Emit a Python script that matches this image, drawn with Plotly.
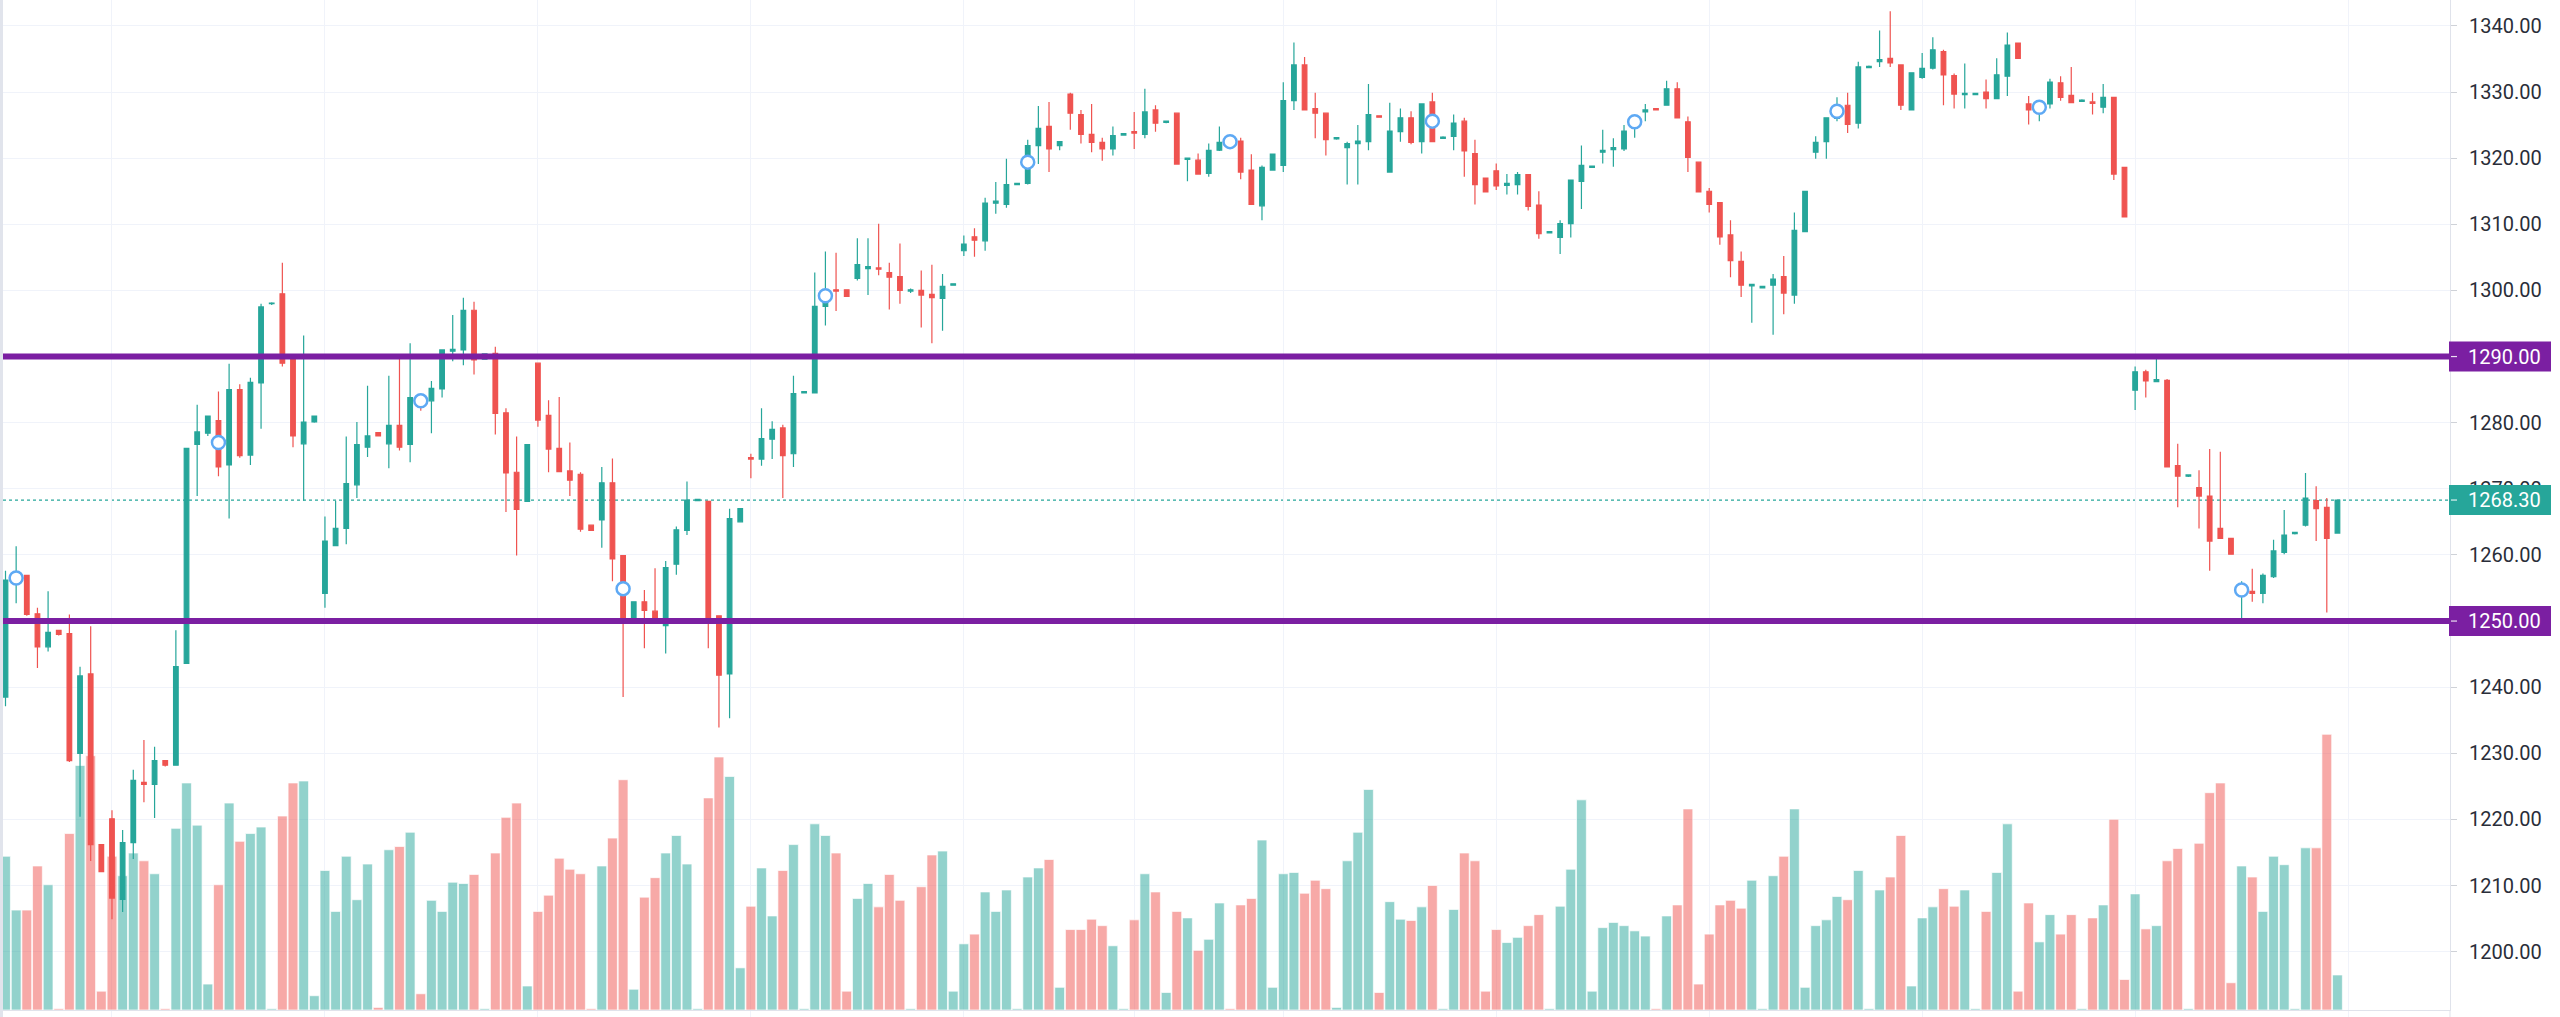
import plotly.graph_objects as go

# ---------------- data ----------------
open_ = [1238.5,1256.0,1256.9,1251.1,1246.1,1248.6,1248.1,1230.0,1242.0,1216.2,
         1220.1,1207.9,1216.5,1225.6,1225.3,1228.9,1228.2,1243.6,1276.7,1278.4,
         1280.3,1273.6,1285.0,1275.1,1286.0,1298.0,1299.5,1289.7,1276.8,1280.1,
         1254.2,1261.4,1264.0,1270.6,1276.3,1278.5,1276.8,1279.6,1276.7,1283.5,
         1283.3,1285.1,1290.8,1291.0,1297.0,1289.6,1290.5,1281.5,1272.5,1268.1,
         1289.0,1281.1,1276.1,1272.7,1272.2,1264.5,1265.3,1270.9,1259.9,1250.0,
         1252.9,1251.5,1249.3,1258.6,1263.7,1268.2,1268.1,1250.8,1242.0,1265.0,
         1274.7,1274.5,1277.5,1279.2,1275.3,1284.5,1284.5,1297.6,1300.1,1300.1,
         1301.8,1303.3,1303.4,1302.7,1302.1,1299.9,1300.0,1299.4,1298.8,1300.8,
         1306.0,1308.1,1307.5,1313.2,1313.0,1316.0,1316.2,1321.9,1324.8,1321.9,
         1329.7,1326.6,1323.6,1322.4,1321.4,1323.5,1324.0,1323.6,1327.3,1325.4,
         1326.8,1319.8,1319.7,1317.7,1321.2,1322.7,1322.6,1318.2,1312.8,1318.2,
         1318.9,1328.7,1334.1,1327.5,1326.8,1322.9,1321.6,1322.2,1322.5,1326.4,
         1317.9,1324.0,1326.1,1322.5,1328.5,1323.0,1323.3,1325.6,1320.7,1317.0,
         1318.1,1315.9,1316.0,1317.5,1312.9,1308.7,1308.0,1310.1,1316.5,1318.6,
         1320.9,1321.3,1321.4,1324.5,1327.0,1327.5,1328.0,1330.5,1325.5,1319.4,
         1315.0,1313.3,1308.4,1304.4,1300.7,1300.4,1300.8,1302.1,1299.3,1308.9,
         1320.9,1322.5,1326.0,1328.0,1325.3,1333.7,1334.6,1335.1,1334.1,1327.3,
         1332.2,1333.6,1336.1,1332.5,1329.6,1329.6,1330.0,1329.0,1332.4,1337.4,
         1328.2,1327.0,1328.2,1331.4,1329.5,1328.6,1328.5,1327.7,1329.2,1318.6,
         1284.9,1287.7,1286.2,1286.4,1273.5,1271.9,1270.2,1268.9,1264.0,1262.5,
         1254.5,1254.5,1254.2,1256.7,1260.4,1263.2,1264.5,1268.2,1267.2,1263.3]

high = [1257.6,1261.3,1257.0,1252.0,1254.5,1248.7,1251.0,1243.1,1249.2,1216.3,
        1221.4,1218.4,1227.5,1232.0,1231.0,1229.0,1248.6,1276.1,1282.7,1281.0,
        1284.7,1288.9,1285.8,1286.8,1298.0,1298.2,1304.2,1290.1,1293.2,1281.1,
        1265.8,1268.2,1277.9,1280.1,1285.6,1278.6,1287.1,1290.0,1292.0,1284.2,
        1286.3,1291.1,1296.3,1298.9,1298.3,1290.5,1291.5,1282.2,1277.9,1276.7,
        1289.0,1283.4,1283.9,1277.0,1272.5,1264.6,1273.3,1274.6,1259.9,1253.0,
        1254.7,1258.0,1259.1,1264.3,1271.1,1268.5,1268.1,1250.8,1267.0,1267.0,
        1275.3,1282.2,1280.2,1279.7,1287.1,1284.8,1302.7,1305.9,1305.7,1300.1,
        1307.9,1307.9,1310.1,1304.2,1307.1,1300.3,1303.0,1303.9,1302.5,1301.1,
        1308.3,1309.4,1314.0,1316.4,1319.9,1316.3,1322.8,1327.9,1328.5,1322.6,
        1329.9,1327.3,1328.2,1323.1,1324.8,1323.8,1327.0,1330.5,1328.0,1325.7,
        1326.8,1320.1,1320.7,1322.2,1324.8,1323.0,1323.1,1320.6,1318.9,1320.6,
        1331.5,1337.5,1335.3,1329.9,1326.8,1323.2,1322.5,1325.0,1331.2,1326.5,
        1328.4,1327.5,1327.1,1328.2,1329.9,1323.3,1326.6,1326.1,1322.8,1317.0,
        1319.2,1317.6,1317.9,1317.5,1315.0,1309.0,1310.6,1316.7,1321.9,1318.9,
        1324.3,1323.0,1325.0,1326.0,1328.2,1327.5,1331.7,1331.5,1326.3,1319.4,
        1315.5,1313.3,1310.6,1305.9,1300.9,1300.7,1302.5,1305.2,1311.8,1315.0,
        1323.3,1326.1,1329.2,1329.9,1334.6,1334.0,1339.3,1342.2,1334.1,1332.9,
        1335.9,1338.3,1336.4,1332.8,1334.3,1329.9,1331.9,1335.1,1339.0,1337.4,
        1329.4,1328.5,1332.0,1332.4,1333.8,1328.9,1329.9,1331.2,1329.2,1318.6,
        1288.5,1288.0,1289.7,1286.6,1276.8,1272.2,1272.8,1276.0,1275.6,1262.5,
        1256.0,1257.9,1257.2,1262.3,1266.8,1263.5,1272.4,1270.4,1268.6,1268.3]

low = [1237.1,1252.7,1250.8,1242.9,1245.4,1247.8,1228.7,1220.4,1213.7,1212.0,
       1204.9,1206.0,1214.0,1222.6,1220.2,1228.0,1228.2,1243.6,1268.9,1278.0,
       1271.9,1265.5,1274.7,1273.6,1279.1,1297.8,1288.5,1276.3,1268.2,1280.0,
       1252.0,1261.4,1261.6,1268.6,1274.8,1277.9,1273.1,1275.8,1274.0,1281.8,
       1278.4,1283.8,1289.3,1288.7,1287.3,1289.5,1278.2,1266.5,1259.9,1268.1,
       1279.4,1272.5,1272.6,1268.9,1263.5,1263.6,1261.1,1256.0,1238.5,1250.0,
       1245.9,1249.8,1245.1,1257.0,1263.0,1268.1,1245.9,1233.9,1235.3,1265.0,
       1271.6,1273.5,1274.5,1268.6,1273.3,1284.4,1284.5,1294.7,1296.9,1299.1,
       1301.5,1299.3,1302.3,1297.1,1298.0,1299.6,1294.4,1292.0,1293.9,1300.7,
       1305.2,1305.1,1306.0,1311.6,1312.5,1315.9,1316.0,1319.1,1317.9,1321.2,
       1324.3,1322.2,1320.9,1319.6,1320.4,1323.4,1321.4,1323.0,1324.0,1325.3,
       1319.1,1316.5,1317.5,1317.2,1321.1,1322.0,1316.8,1313.0,1310.6,1318.2,
       1317.9,1327.3,1327.3,1323.0,1320.4,1322.8,1316.0,1316.0,1321.2,1326.1,
       1317.9,1322.5,1322.1,1320.7,1322.5,1322.9,1321.2,1317.2,1313.0,1314.9,
       1315.2,1314.5,1314.5,1312.1,1307.8,1308.6,1305.5,1308.0,1312.3,1318.5,
       1319.2,1318.7,1321.1,1323.1,1325.6,1327.3,1328.0,1326.1,1317.9,1314.9,
       1311.8,1306.9,1302.0,1299.0,1295.1,1300.3,1293.3,1296.4,1298.0,1308.9,
       1319.9,1319.9,1325.6,1323.8,1324.5,1333.6,1333.8,1333.8,1327.3,1327.3,
       1332.0,1333.4,1328.0,1327.5,1327.5,1329.5,1327.5,1329.0,1329.4,1335.1,
       1325.1,1325.6,1327.5,1328.7,1328.4,1328.5,1326.6,1326.8,1316.7,1311.1,
       1281.9,1283.8,1286.1,1273.3,1267.2,1271.8,1264.0,1257.6,1262.4,1260.1,
       1250.0,1252.9,1252.7,1256.5,1260.1,1263.1,1264.3,1262.1,1251.3,1263.3]

close = [1256.2,1257.0,1251.0,1246.1,1248.3,1248.0,1228.9,1241.7,1216.2,1212.1,
         1208.1,1216.5,1225.9,1225.3,1228.9,1228.2,1243.1,1276.1,1278.6,1281.0,
         1273.3,1285.0,1275.0,1286.1,1297.5,1298.1,1289.0,1278.0,1280.1,1281.0,
         1262.1,1264.0,1270.8,1276.7,1278.0,1278.0,1279.6,1276.3,1283.8,1282.3,
         1285.2,1291.0,1291.1,1297.0,1289.5,1290.4,1281.4,1272.4,1266.9,1276.7,
         1280.4,1276.0,1272.6,1271.3,1263.9,1263.7,1270.9,1259.4,1250.0,1252.9,
         1251.6,1249.8,1258.1,1263.8,1268.3,1268.4,1250.0,1241.8,1265.5,1267.0,
         1274.5,1277.6,1279.0,1275.0,1284.4,1284.7,1297.6,1299.0,1299.9,1299.1,
         1303.9,1303.6,1303.2,1302.0,1300.0,1300.1,1299.3,1298.9,1300.6,1301.0,
         1307.0,1307.6,1313.2,1313.5,1316.0,1316.2,1321.9,1324.5,1321.4,1322.5,
         1326.8,1323.6,1322.4,1321.4,1323.4,1323.7,1323.8,1327.0,1325.3,1325.6,
         1319.1,1320.0,1317.6,1321.2,1322.4,1322.3,1317.9,1313.0,1318.6,1320.6,
         1328.7,1334.1,1327.3,1326.8,1322.8,1323.1,1322.2,1322.6,1326.6,1326.2,
         1324.1,1326.1,1322.4,1328.2,1322.5,1323.2,1325.3,1321.1,1316.0,1314.9,
         1315.8,1316.2,1317.5,1312.7,1308.6,1308.9,1310.1,1316.7,1318.9,1318.8,
         1321.2,1321.6,1324.1,1325.5,1327.3,1327.3,1330.5,1326.1,1320.1,1314.9,
         1313.0,1308.1,1304.5,1300.8,1300.9,1300.6,1301.7,1299.6,1309.1,1315.0,
         1322.4,1326.1,1327.5,1325.1,1333.8,1333.9,1334.9,1334.4,1328.0,1332.9,
         1333.6,1336.4,1332.6,1329.7,1329.8,1329.8,1329.0,1332.6,1337.1,1335.1,
         1327.3,1328.0,1331.5,1329.2,1328.4,1328.8,1328.3,1329.2,1317.6,1311.1,
         1287.7,1286.3,1286.5,1273.3,1271.9,1272.1,1268.9,1262.1,1262.5,1260.1,
         1255.5,1254.2,1256.9,1260.6,1263.0,1263.4,1268.6,1267.0,1262.5,1268.3]

volume = [237,154,154,222,193,2,272,377,392,29,
          237,207,242,230,210,2,280,350,285,40,
          193,319,260,272,282,2,299,350,353,22,
          215,152,237,170,225,4,247,252,274,25,
          169,152,197,195,209,2,242,297,319,37,
          152,177,234,217,210,2,222,265,355,32,
          174,204,242,269,225,2,327,390,360,65,
          160,219,145,215,255,2,287,269,242,29,
          172,195,159,209,169,2,190,239,245,29,
          102,117,182,152,185,2,205,219,232,35,
          124,124,140,130,99,2,139,210,182,27,
          152,142,92,109,165,2,162,172,262,35,
          210,212,180,200,187,4,230,274,340,27,
          167,140,138,159,192,2,155,242,230,29,
          124,104,112,130,147,2,160,217,324,29,
          127,135,130,122,114,2,145,162,310,40,
          117,162,169,157,200,2,207,237,310,35,
          130,139,175,170,215,2,185,205,269,37,
          142,159,187,160,185,2,152,212,287,29,
          165,105,147,117,147,2,142,162,294,47,
          179,125,130,230,249,2,257,335,350,42,
          222,205,152,237,224,2,250,250,425,54]

marker_idx = [1, 20, 39, 58, 77, 96, 115, 134, 153, 172, 191, 210]
marker_price = [1256.5, 1277.0, 1283.3, 1254.9, 1299.2, 1319.4,
                1322.5, 1325.6, 1325.5, 1327.1, 1327.7, 1254.7]

levels = [1290.00, 1250.00]
last_price = 1268.30
price_ticks = [1200, 1210, 1220, 1230, 1240, 1250, 1260, 1270,
               1280, 1290, 1300, 1310, 1320, 1330, 1340]
time_grid = [10, 30, 50, 70, 90, 106, 120, 140, 160, 180, 200, 220]

# ---------------- styling ----------------
UP = '#26a69a'
DOWN = '#ef5350'
PURPLE = '#7b1fa2'
GRID = '#f0f3fa'
AXIS = '#e0e3eb'
FONT = 'Roboto, Arial, sans-serif'

Y_RANGE = [1191.18, 1343.92]
X_RANGE = [-0.235, 229.57]
VOL_RANGE = [0, 1557]

x = list(range(len(close)))
vol_colors = ['rgba(38,166,154,0.5)' if c >= o else 'rgba(239,83,80,0.5)'
              for o, c in zip(open_, close)]

fig = go.Figure()

fig.add_trace(go.Bar(
    x=x, y=volume, yaxis='y',
    marker=dict(color=vol_colors, line=dict(color='rgba(255,255,255,0.85)', width=0.8)),
    hoverinfo='skip', showlegend=False))

fig.add_trace(go.Candlestick(
    x=x, open=open_, high=high, low=low, close=close, yaxis='y2',
    increasing=dict(line=dict(color=UP, width=1.2), fillcolor=UP),
    decreasing=dict(line=dict(color=DOWN, width=1.2), fillcolor=DOWN),
    whiskerwidth=0, showlegend=False))

fig.add_trace(go.Scatter(
    x=marker_idx, y=marker_price, yaxis='y2', mode='markers',
    marker=dict(size=13, color='white', line=dict(color='#5ea9f4', width=2.5)),
    hoverinfo='skip', showlegend=False))

shapes = []
# left border strip
shapes.append(dict(type='rect', xref='paper', xsizemode='pixel', xanchor=0, x0=-3, x1=0,
                   yref='paper', y0=-0.02, y1=1.0, fillcolor='#e1e4ec',
                   line=dict(width=0), layer='above'))
# price-scale separator continuing below the plot
shapes.append(dict(type='line', xref='paper', x0=1, x1=1, yref='paper', y0=-0.02, y1=0,
                   line=dict(color=AXIS, width=1), layer='above'))
# last price dotted line
shapes.append(dict(type='line', xref='paper', x0=0, x1=1, yref='y2', y0=last_price, y1=last_price,
                   line=dict(color=UP, width=1.2, dash='dot'), layer='below'))
# horizontal levels
for lv in levels:
    shapes.append(dict(type='line', xref='paper', x0=0, x1=1, yref='y2', y0=lv, y1=lv,
                       line=dict(color=PURPLE, width=6), layer='above'))

annotations = []
label_items = [(lv, PURPLE) for lv in levels] + [(last_price, UP)]
for val, col in label_items:
    shapes.append(dict(type='rect', xref='paper', xsizemode='pixel', xanchor=1, x0=-1, x1=101,
                       yref='y2', ysizemode='pixel', yanchor=val, y0=-15, y1=15,
                       fillcolor=col, line=dict(width=0), layer='above'))
    shapes.append(dict(type='line', xref='paper', xsizemode='pixel', xanchor=1, x0=1, x1=7,
                       yref='y2', y0=val, y1=val,
                       line=dict(color='rgba(255,255,255,0.85)', width=1.2), layer='above'))
    annotations.append(dict(xref='paper', x=1, xanchor='center', xshift=54,
                            yref='y2', y=val, yanchor='middle', showarrow=False,
                            text=f'{val:.2f}',
                            font=dict(family=FONT, size=20, color='white')))

fig.update_layout(
    width=2560, height=1017,
    margin=dict(l=3, r=110, t=0, b=7),
    paper_bgcolor='white', plot_bgcolor='white',
    showlegend=False, bargap=0.08, boxgap=0.38,
    xaxis=dict(range=X_RANGE, rangeslider=dict(visible=False), tickmode='array',
               tickvals=time_grid, showticklabels=False, showgrid=True,
               gridcolor=GRID, gridwidth=1.3, ticks='outside', ticklen=7,
               tickcolor=GRID, tickwidth=1.3, showline=True, linecolor=AXIS,
               zeroline=False, fixedrange=True),
    yaxis=dict(range=VOL_RANGE, visible=False, showgrid=False, zeroline=False,
               fixedrange=True),
    yaxis2=dict(range=Y_RANGE, overlaying='y', side='right', tickmode='array',
                tickvals=price_ticks, tickformat='.2f', showgrid=True,
                gridcolor=GRID, gridwidth=1.3, ticks='outside', ticklen=6,
                tickcolor='#cfd2d8', showline=True, linecolor=AXIS,
                tickfont=dict(family=FONT, size=20, color='#2a2e39'),
                ticklabelstandoff=8, zeroline=False, fixedrange=True),
    shapes=shapes, annotations=annotations,
    font=dict(family=FONT),
)

fig.write_html("out.html", config={'displayModeBar': False},
               post_script="document.body.style.margin='0';document.body.style.overflow='hidden';")
